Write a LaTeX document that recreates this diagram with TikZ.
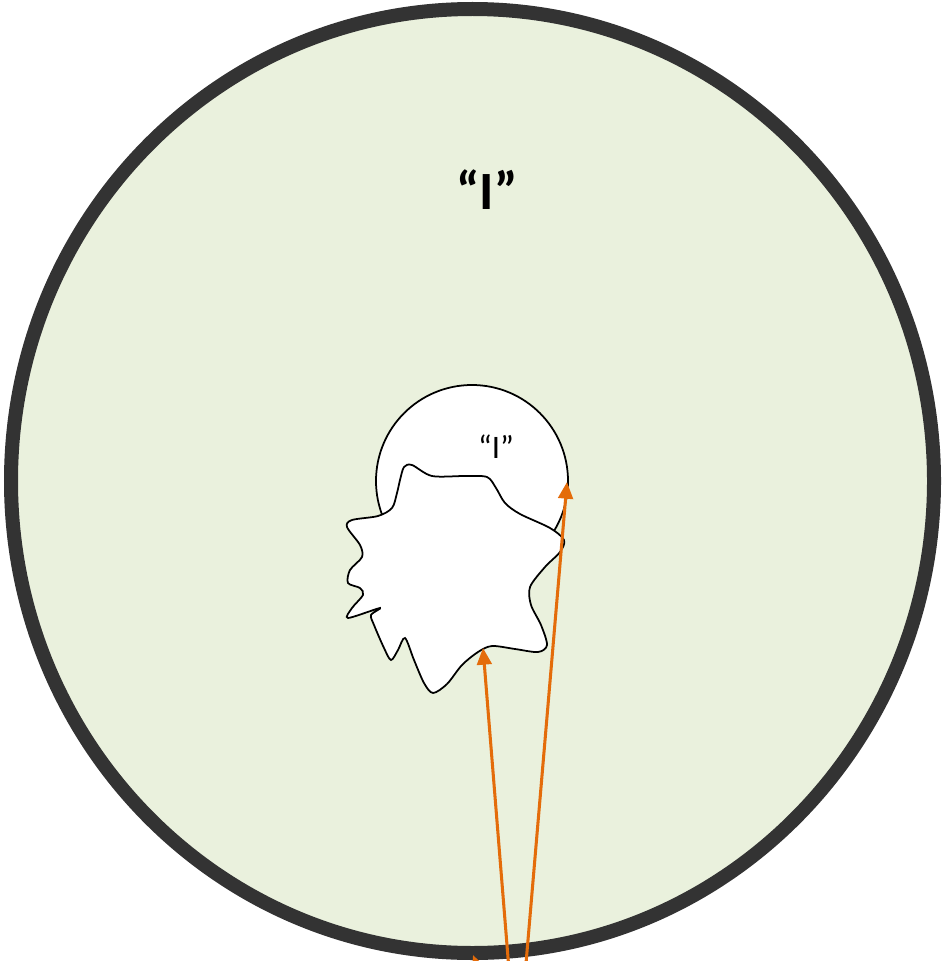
\documentclass[tikz,border=0pt]{standalone}
\usepackage{fontspec}
\setmainfont{Carlito}
\usetikzlibrary{arrows.meta}
\definecolor{RimGray}{HTML}{333333}
\definecolor{SageFill}{HTML}{EAF1DD}
\definecolor{RayOrange}{HTML}{E46C0A}
\begin{document}
\begin{tikzpicture}[x=0.03cm,y=-0.03cm,
      rim/.style={draw=RimGray,line width=0.42cm,fill=SageFill},
      core/.style={draw=black,line width=1.5pt,fill=white},
      ray/.style={-{Triangle[length=0.5cm,width=0.44cm]},RayOrange,line width=2.6pt},
      bigmark/.style={inner sep=0pt,font=\fontsize{46}{50}\selectfont\bfseries},
      smallmark/.style={inner sep=0pt,font=\fontsize{28}{32}\selectfont}]
      \useasboundingbox (0,0) rectangle (941,961);
      \draw[rim] (472.5,481) ellipse [x radius=461.5,y radius=472];
      \node[bigmark] (outerI) at (487,190) {“I”};
      \draw[core] (472,481) circle [radius=96];
      \node[smallmark] (innerI) at (496,447) {“I”};
      % the irregular blob over the inner circle
      \draw[core] plot[smooth cycle,tension=0.5] coordinates {
        (400,480) (404,467) (412,465) (432,476) (465,476) (487,477)
        (496,488) (505,503) (520,514) (550,528) (564,540) (560,552)
        (545,567) (530,587) (531,605) (541,625) (547,645) (538,652)
        (515,649) (492,646) (478,652) (462,665) (447,684) (433,693)
        (424,683) (414,660) (405,638) (398,650) (391,660) (384,648)
        (374,625) (371,615) (380,608) (348,618) (352,608) (363,595)
        (360,588) (348,583) (350,570) (362,557) (360,545) (347,527)
        (352,520) (378,516) (392,508) (397,493)};
      \coordinate (src) at (517,1069);
      \coordinate (blobtip) at (483,648);
      \coordinate (circtip) at (567,482);
      \coordinate (rimtip) at (473,955);
      \draw[ray] (src) -- (blobtip);
      \draw[ray] (src) -- (circtip);
      \draw[ray] (src) -- (rimtip);
\end{tikzpicture}
\end{document}
